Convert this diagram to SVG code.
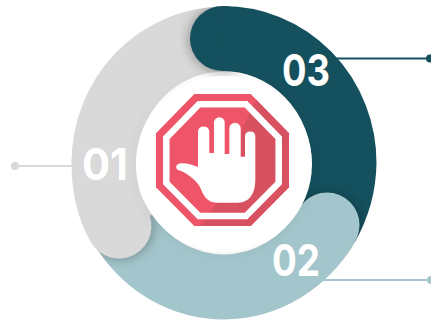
<svg xmlns="http://www.w3.org/2000/svg" width="431" height="320" viewBox="0 0 431 320">
<defs>
<style>
.band{fill:none;stroke-width:65}
.num{font-family:"Inter","Liberation Sans",sans-serif;font-weight:700;font-size:44px;fill:#fff}
.ln{stroke-width:2;fill:none}
.gray{stroke:#d9d9d9}.teal{stroke:#15505e}.lt{stroke:#a3c6cc}
</style>
<filter id="sh" x="-30%" y="-30%" width="160%" height="160%"><feGaussianBlur stdDeviation="6"/></filter>
<filter id="sw" x="-30%" y="-30%" width="160%" height="160%"><feDropShadow dx="0" dy="2" stdDeviation="7" flood-color="#000" flood-opacity=".06"/></filter>
<clipPath id="ring"><ellipse cx="224" cy="163" rx="152.500" ry="156.500"/></clipPath>
<clipPath id="oct"><path d="M194.300 94H250.700L289 133.300V187.300L250.700 226H194.300L156 187.300V133.300Z"/></clipPath>
</defs>
<g id="connectors">
<path class="ln gray" d="M15 166H76"/><circle cx="15" cy="166" r="4" fill="#d9d9d9"/>
<path class="ln teal" d="M335 58.500H430"/><circle cx="430" cy="58.500" r="4" fill="#15505e"/>
<path class="ln lt" d="M320 280H431"/><circle cx="431" cy="280" r="4" fill="#a3c6cc"/>
</g>
<g id="node-01-back"><path class="band gray" d="M224 39A120 124 0 0 0 104 163"/></g>
<g clip-path="url(#ring)">
<circle cx="222" cy="39" r="33" fill="#000" opacity=".35" filter="url(#sh)"/>
</g>
<g id="node-03"><circle cx="222.500" cy="38.500" r="32.500" fill="#15505e"/><path class="band teal" d="M222.500 38.500A121 125 0 0 1 344 163A121 125 0 0 1 327 225"/>
<text class="num" x="282" y="86" textLength="48" lengthAdjust="spacingAndGlyphs">03</text></g>
<g clip-path="url(#ring)">
<circle cx="327" cy="226" r="33" fill="#000" opacity=".3" filter="url(#sh)"/>
</g>
<g id="node-02"><path class="band lt" d="M327 225A120 124 0 0 1 224 287A120 124 0 0 1 125 232"/>
<circle cx="327" cy="225" r="32.500" fill="#a3c6cc"/>
<text class="num" x="272" y="276" textLength="48" lengthAdjust="spacingAndGlyphs">02</text></g>
<g clip-path="url(#ring)">
<circle cx="120" cy="226" r="33" fill="#000" opacity=".3" filter="url(#sh)"/>
</g>
<g id="node-01"><path class="band gray" style="stroke-linecap:round" d="M104 163Q104 200 119 226"/>
<text class="num" x="82" y="180" textLength="46" lengthAdjust="spacingAndGlyphs">01</text></g>
<g id="node-center">
<circle cx="224" cy="164" r="88" fill="#fff" filter="url(#sw)"/>
<path d="M194.300 94H250.700L289 133.300V187.300L250.700 226H194.300L156 187.300V133.300Z" fill="#ee5568"/>
<path clip-path="url(#oct)" d="M258 96L243 127L215 205L198 230H295V120Z" fill="#d75160"/>
<path d="M199 104.300H246L278.700 137.800V183L246 216H199L166.300 183V137.800Z" fill="none" stroke="#fff" stroke-width="6.500" stroke-linejoin="miter"/>
<path fill="#fff" d="M198 167V131.500A5.700 5.700 0 0 1 209.300 131.500V153H214V122.500A5.300 5.300 0 0 1 224.700 122.500V154H229.300V128.500A5.700 5.700 0 0 1 240.700 128.500V156.700H245V136A5.200 5.200 0 0 1 255.300 136V180C255.300 194 249 202.700 238 202.700H217C206 202.700 203 194 200 187C196 180 186 172 178 170C175 168 176 164 180 163.500C186 162.500 193 165 198 167Z"/>
</g>
</svg>
